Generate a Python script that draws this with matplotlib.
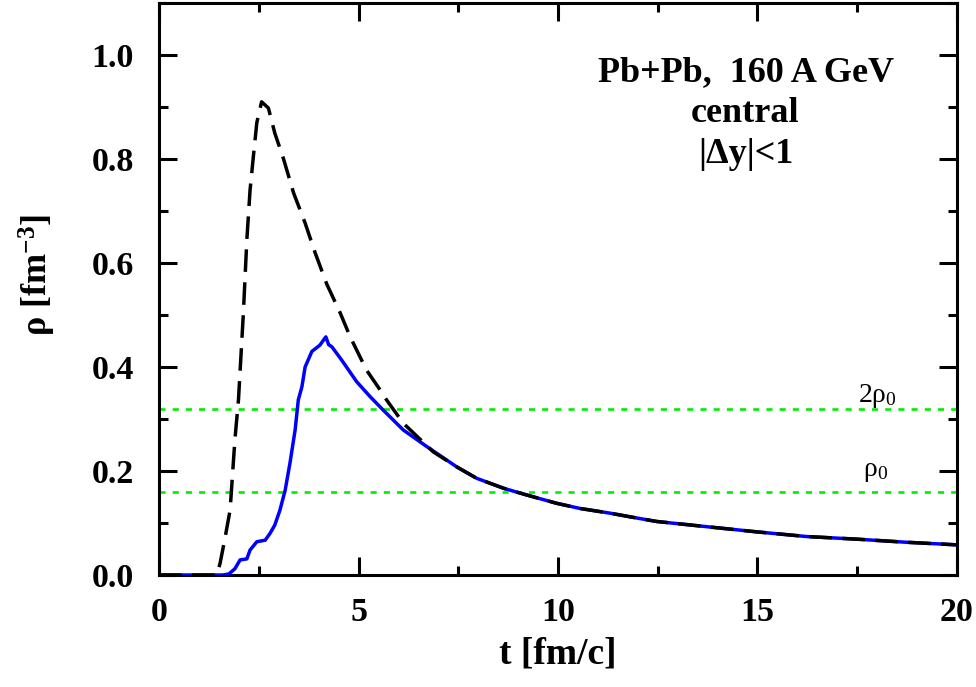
import matplotlib
matplotlib.use("Agg")
import matplotlib.pyplot as plt
from matplotlib.ticker import MultipleLocator

plt.rcParams["font.family"] = ["Liberation Serif", "DejaVu Serif"]
plt.rcParams["font.weight"] = "bold"
plt.rcParams["mathtext.fontset"] = "custom"
plt.rcParams["mathtext.rm"] = "Liberation Serif:weight=normal"
plt.rcParams["mathtext.bf"] = "Liberation Serif:bold"
plt.rcParams["mathtext.it"] = "Liberation Serif:italic:weight=normal"

# blue solid curve
t_blue = [0, 1.0, 1.6, 1.75, 1.9, 2.03, 2.2, 2.28, 2.45, 2.66, 2.78, 2.9, 3.03,
          3.16, 3.28, 3.41, 3.49, 3.58, 3.66, 3.83, 4.03, 4.18, 4.25, 4.33,
          4.58, 4.95, 5.29, 5.62, 6.12, 6.71, 7.46, 7.96, 8.63, 9.21, 9.96,
          10.55, 11.3, 11.8, 12.47, 13.72, 14.98, 16.23, 17.48, 18.73, 20.0]
rho_blue = [0, 0, 0, 0.002, 0.012, 0.029, 0.031, 0.048, 0.064, 0.067, 0.08,
            0.096, 0.125, 0.163, 0.215, 0.279, 0.337, 0.362, 0.40, 0.43, 0.442,
            0.458, 0.443, 0.439, 0.413, 0.372, 0.343, 0.317, 0.279, 0.247,
            0.208, 0.186, 0.167, 0.154, 0.138, 0.128, 0.119, 0.112, 0.103,
            0.093, 0.083, 0.074, 0.069, 0.063, 0.058]

# black dashed curve
t_dash = [0, 1.45, 1.53, 1.65, 1.78, 1.9, 1.99, 2.11, 2.2, 2.28, 2.37, 2.45,
          2.57, 2.74, 2.9, 3.12, 3.37, 3.66, 3.91, 4.2, 4.54, 4.79, 5.2, 5.54,
          5.7, 6.12, 6.87, 7.46, 7.96, 8.63, 9.21, 9.96, 10.55, 11.3, 11.8,
          12.47, 13.72, 14.98, 16.23, 17.48, 18.73, 20.0]
rho_dash = [0, 0, 0.023, 0.07, 0.125, 0.26, 0.337, 0.50, 0.645, 0.74, 0.81,
            0.87, 0.91, 0.898, 0.85, 0.80, 0.735, 0.677, 0.62, 0.56, 0.504,
            0.458, 0.394, 0.356, 0.337, 0.292, 0.237, 0.208, 0.186, 0.167,
            0.154, 0.138, 0.128, 0.119, 0.112, 0.103, 0.093, 0.083, 0.074,
            0.069, 0.063, 0.058]

rho0 = 0.16
rho0_2 = 0.32

fig = plt.figure(figsize=(9.76, 6.87), dpi=100)
ax = fig.add_axes([0.163, 0.163, 0.8175, 0.8326])

ax.axhline(rho0_2, color="#00ee00", linewidth=1.9, linestyle=(0, (2.3, 2.7)))
ax.axhline(rho0, color="#00ee00", linewidth=1.9, linestyle=(0, (2.3, 2.7)))

ax.plot(t_blue, rho_blue, color="#0000ff", linewidth=2.5, zorder=3)
ax.plot(t_dash, rho_dash, color="black", linewidth=2.5,
        linestyle=(0, (6.5, 3)), zorder=4)

ax.set_xlim(0, 20)
ax.set_ylim(0, 1.1)
ax.xaxis.set_major_locator(MultipleLocator(5))
ax.xaxis.set_minor_locator(MultipleLocator(2.5))
ax.yaxis.set_major_locator(MultipleLocator(0.2))
ax.yaxis.set_minor_locator(MultipleLocator(0.1))
ax.yaxis.set_major_formatter(plt.FuncFormatter(lambda v, p: f"{v:.1f}"))

ax.tick_params(which="both", direction="in", top=True, right=True, width=2.2,
               labelsize=24.5)
ax.tick_params(axis="x", pad=16)
ax.tick_params(axis="y", pad=18)
ax.tick_params(which="major", length=13)
ax.tick_params(which="minor", length=6.5)
for s in ax.spines.values():
    s.set_linewidth(2.2)

ax.set_xlabel("t [fm/c]", fontsize=27, fontweight="bold", labelpad=6)
ax.set_ylabel(r"ρ [fm$^{\mathbf{-3}}$]", fontsize=26, fontweight="bold")
ax.yaxis.set_label_coords(-0.127, 0.525)

ax.text(14.7, 0.967, "Pb+Pb,  160 A GeV", fontsize=26, fontweight="bold",
        ha="center", va="center")
ax.text(14.7, 0.888, "central", fontsize=26, fontweight="bold",
        ha="center", va="center")
ax.text(14.7, 0.808, "|Δy|<1", fontsize=26, fontweight="bold",
        ha="center", va="center")

ax.text(18.0, 0.345, r"2ρ$_0$", fontsize=20, fontweight="normal",
        ha="center", va="center")
ax.text(17.95, 0.20, r"ρ$_0$", fontsize=20, fontweight="normal",
        ha="center", va="center")

fig.savefig("out.png", dpi=100)
